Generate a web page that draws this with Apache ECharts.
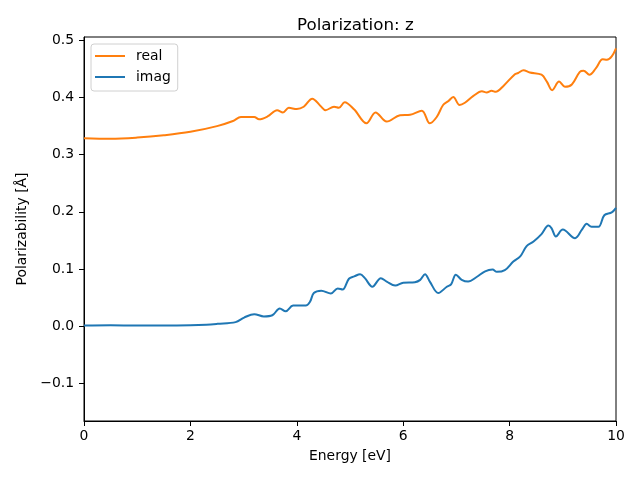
<!DOCTYPE html>
<html>
<head>
<meta charset="utf-8">
<script src="https://cdn.jsdelivr.net/npm/echarts@6/dist/echarts.min.js"></script>
<style>html,body{margin:0;padding:0;background:#fff}#c{width:640px;height:480px}</style>
</head>
<body>
<div id="c"></div>
<script>
const energyReal = [0,0.5,1.0,1.5,2.0,2.5,2.8,2.95,3.2,3.29,3.45,3.63,3.74,3.85,4.0,4.13,4.29,4.45,4.54,4.70,4.79,4.90,5.08,5.31,5.48,5.69,5.94,6.13,6.35,6.50,6.63,6.75,6.85,6.94,7.06,7.16,7.32,7.48,7.57,7.66,7.74,7.88,8.10,8.16,8.26,8.38,8.60,8.70,8.80,8.93,9.04,9.17,9.32,9.39,9.50,9.62,9.75,9.83,9.92,10];
const realValues = [0.329,0.328,0.330,0.334,0.340,0.350,0.359,0.366,0.366,0.362,0.367,0.378,0.374,0.382,0.380,0.384,0.398,0.385,0.378,0.384,0.382,0.392,0.379,0.355,0.374,0.358,0.369,0.370,0.377,0.355,0.366,0.387,0.394,0.401,0.387,0.391,0.403,0.411,0.409,0.412,0.410,0.420,0.441,0.443,0.448,0.444,0.440,0.428,0.413,0.428,0.419,0.423,0.445,0.447,0.440,0.451,0.467,0.466,0.472,0.486];
const energyImag = [0,0.5,1.0,1.5,2.0,2.3,2.51,2.85,3.01,3.20,3.38,3.54,3.68,3.79,3.93,4.17,4.25,4.32,4.46,4.64,4.77,4.86,4.98,5.08,5.19,5.28,5.42,5.58,5.69,5.85,6.00,6.22,6.32,6.41,6.50,6.66,6.82,6.90,6.99,7.10,7.22,7.38,7.54,7.68,7.76,7.91,8.07,8.20,8.32,8.45,8.60,8.73,8.79,8.87,9.00,9.23,9.36,9.45,9.54,9.67,9.78,9.92,10];
const imagValues = [0.001,0.0015,0.001,0.001,0.0015,0.0025,0.004,0.007,0.015,0.021,0.017,0.019,0.031,0.026,0.036,0.036,0.043,0.058,0.062,0.057,0.066,0.064,0.083,0.087,0.091,0.084,0.069,0.084,0.078,0.071,0.076,0.077,0.081,0.091,0.078,0.058,0.069,0.073,0.090,0.081,0.078,0.086,0.096,0.099,0.095,0.098,0.113,0.122,0.140,0.148,0.161,0.176,0.171,0.157,0.169,0.154,0.169,0.179,0.174,0.174,0.194,0.199,0.207];
const xTicks = [0,2,4,6,8,10];
const yTicks = [-0.1,0,0.1,0.2,0.3,0.4,0.5];

const font = 'DejaVu Sans';
const fs = 13.9;
const chart = echarts.init(document.getElementById('c'), null, {renderer:'canvas'});
const zip = (xs, ys) => xs.map((x,i)=>[x, ys[i]]);
chart.setOption({
  animation:false,
  backgroundColor:'#fff',
  title:{text:'Polarization: z', left:292, top:12,
    textStyle:{fontFamily:font, fontSize:16.7, fontWeight:'normal', color:'#000'}},
  legend:{orient:'vertical', left:91, top:44, padding:[5,7,7,4], itemGap:7,
    itemWidth:30, itemHeight:2, icon:'rect',
    borderColor:'#d0d0d0', borderWidth:1, borderRadius:3, backgroundColor:'rgba(255,255,255,0.8)',
    textStyle:{fontFamily:font, fontSize:fs, color:'#000', padding:[0,0,0,6]},
    data:['real','imag']},
  grid:{left:84, right:24, top:37, bottom:59, show:true, borderColor:'#000', borderWidth:1, containLabel:false},
  xAxis:{type:'value', min:0, max:10, interval:2,
    name:'Energy [eV]', nameLocation:'middle', nameGap:28,
    nameTextStyle:{fontFamily:font, fontSize:fs, color:'#000'},
    axisLine:{show:true, onZero:false, lineStyle:{color:'#000', width:1}},
    axisTick:{show:true, length:5, lineStyle:{color:'#000'}, customValues:xTicks},
    axisLabel:{fontFamily:font, fontSize:fs, color:'#000', margin:8, customValues:xTicks},
    splitLine:{show:false}},
  yAxis:{type:'value', min:-0.166, max:0.506,
    name:'Polarizability [Å]', nameLocation:'middle', nameGap:49,
    nameTextStyle:{fontFamily:font, fontSize:fs, color:'#000'},
    axisLine:{show:true, onZero:false, lineStyle:{color:'#000', width:1}},
    axisTick:{show:true, length:5, lineStyle:{color:'#000'}, customValues:yTicks},
    axisLabel:{fontFamily:font, fontSize:fs, color:'#000', margin:10, customValues:yTicks,
      formatter:v=>v.toFixed(1).replace('-','\u2212')},
    splitLine:{show:false}},
  series:[
    {name:'real', type:'line', data:zip(energyReal, realValues), smooth:0.35, symbol:'none',
      color:'#ff7f0e', lineStyle:{width:2, color:'#ff7f0e'}},
    {name:'imag', type:'line', data:zip(energyImag, imagValues), smooth:0.35, symbol:'none',
      color:'#1f77b4', lineStyle:{width:2, color:'#1f77b4'}}
  ]
});
</script>
</body>
</html>
